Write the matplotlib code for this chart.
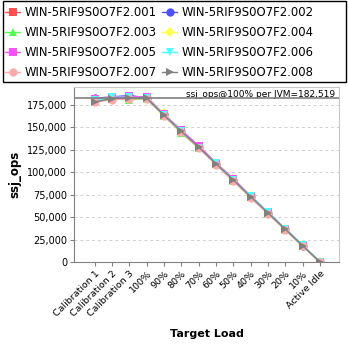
import matplotlib
matplotlib.use("Agg")
import matplotlib.pyplot as plt
from matplotlib.ticker import FuncFormatter
from matplotlib.patches import Rectangle

categories = ["Calibration 1", "Calibration 2", "Calibration 3", "100%", "90%", "80%",
              "70%", "60%", "50%", "40%", "30%", "20%", "10%", "Active Idle"]
series_names = ["WIN-5RIF9S0O7F2.001", "WIN-5RIF9S0O7F2.002", "WIN-5RIF9S0O7F2.003",
                "WIN-5RIF9S0O7F2.004", "WIN-5RIF9S0O7F2.005", "WIN-5RIF9S0O7F2.006",
                "WIN-5RIF9S0O7F2.007", "WIN-5RIF9S0O7F2.008"]
s001 = [180500, 183000, 183500, 184000, 164000, 145500, 128500, 110000, 91000, 72500, 54500, 36500, 18000, 0]
s002 = [182500, 184000, 185500, 183000, 164500, 146500, 128500, 109500, 91500, 73500, 55000, 36800, 18300, 0]
s003 = [179500, 181500, 181000, 181500, 163000, 143500, 127000, 109000, 90500, 72500, 54000, 35800, 17300, 0]
s004 = [181000, 183500, 184000, 183000, 165500, 146500, 128500, 110500, 92000, 73000, 55000, 36500, 18400, 0]
s005 = [181500, 184000, 184500, 183500, 164500, 147000, 129500, 110500, 93000, 73500, 55500, 37000, 18500, 0]
s006 = [180000, 183500, 183500, 182500, 164000, 146000, 127000, 110000, 91500, 73500, 55500, 37000, 19000, 0]
s007 = [178000, 181000, 181500, 182000, 162500, 144500, 127000, 108500, 90000, 71500, 53500, 35500, 17500, 0]
s008 = [178500, 182000, 183000, 182500, 163500, 145500, 128000, 109500, 91500, 72800, 54800, 36500, 18300, 0]
ref_value = 182519
ref_text = "ssj_ops@100% per JVM=182,519"
y_ticks = [0, 25000, 50000, 75000, 100000, 125000, 150000, 175000]

all_series = [s001, s002, s003, s004, s005, s006, s007, s008]
colors = ["#ff5050", "#5050ff", "#50ff50", "#ffff50", "#ff50ff", "#50ffff", "#ffaaaa", "#808080"]
markers = ["s", "o", "^", "D", "s", "v", "o", ">"]

W = 348.0
fig = plt.figure(figsize=(3.48, 3.48), dpi=100)
ax = fig.add_axes([74 / W, 1 - 262 / W, 265 / W, 175 / W])

x = list(range(len(categories)))
handles = []
for name, vals, c, m in zip(series_names, all_series, colors, markers):
    ms = 5 if m == "D" else 6
    h, = ax.plot(x, vals, color=c, marker=m, markersize=ms, linewidth=1.0,
                 markeredgewidth=0, label=name)
    handles.append(h)

ax.axhline(ref_value, color="#808080", linewidth=1.2, zorder=5)
ax.text(0.985, 0.985, ref_text, transform=ax.transAxes, ha="right", va="top",
        fontsize=6.5, color="black")

ax.set_xlim(-1.2, len(categories) - 1 + 1.1)
ax.set_ylim(0, 195000)
ax.set_yticks(y_ticks)
ax.yaxis.set_major_formatter(FuncFormatter(lambda v, p: f"{int(v):,}"))
ax.set_xticks(x)
ax.set_xticklabels(categories, rotation=45, ha="right", rotation_mode="anchor", fontsize=6.8)
ax.tick_params(axis="y", labelsize=7.0, length=3, color="#808080", pad=2)
ax.tick_params(axis="x", length=3, color="#808080", pad=2)
ax.grid(axis="y", color="#d0d0d0", linestyle=(0, (3, 3)), linewidth=0.7)
ax.set_axisbelow(True)
for side in ["top", "right"]:
    ax.spines[side].set_color("#c8c8c8")
for side in ["left", "bottom"]:
    ax.spines[side].set_color("#808080")

ax.set_ylabel("ssj_ops", fontsize=8.5, fontweight="bold", labelpad=4)
ax.set_xlabel("Target Load", fontsize=8, fontweight="bold", labelpad=8)

# legend frame
fig.patches.append(Rectangle((3 / W, 1 - 82 / W), 343 / W, 81 / W, transform=fig.transFigure,
                             fill=False, edgecolor="black", linewidth=1.0))
order = [0, 2, 4, 6, 1, 3, 5, 7]
leg = fig.legend([handles[i] for i in order], [series_names[i] for i in order],
                 loc="upper left", ncol=2, bbox_to_anchor=(5 / W, 1 - 6.5 / W),
                 fontsize=8.4, frameon=False, borderaxespad=0, borderpad=0,
                 labelspacing=0.58, handlelength=1.3, handletextpad=0.35,
                 columnspacing=0.5)

fig.savefig("out.png", dpi=100)
